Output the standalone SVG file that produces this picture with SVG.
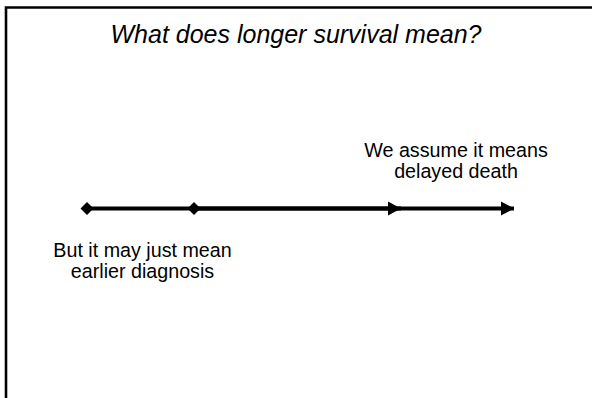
<svg xmlns="http://www.w3.org/2000/svg" width="592" height="398" viewBox="0 0 592 398">
<style>
.t{font-family:"Liberation Sans",Arial,sans-serif;fill:#000;text-anchor:middle}
.body{font-size:19.7px}
.title{font-size:25px;font-style:italic}
.conn{stroke:#000;stroke-width:4;fill:none}
</style>
<defs>
<marker id="diamond" markerUnits="userSpaceOnUse" markerWidth="16" markerHeight="16" refX="8" refY="8" orient="auto" overflow="visible">
<polygon points="1.5,8 8,1.5 14.5,8 8,14.5" fill="#000"/>
</marker>
<marker id="arrow" markerUnits="userSpaceOnUse" markerWidth="16" markerHeight="16" refX="13" refY="8" orient="auto" overflow="visible">
<polygon points="0,1 13,8 0,15" fill="#000"/>
</marker>
</defs>
<rect width="592" height="398" fill="#fff"/>
<g id="frame">
<path d="M6,398 V7.5 H592" stroke="#000" stroke-width="2.6" fill="none"/>
</g>
<g id="title">
<text class="t title" x="296" y="43">What does longer survival mean?</text>
</g>
<g id="connectors">
<path class="conn" d="M87,208.5 H401" marker-start="url(#diamond)" marker-end="url(#arrow)"/>
<path class="conn" d="M194,208.5 H514" marker-start="url(#diamond)" marker-end="url(#arrow)"/>
</g>
<g id="label-death">
<text class="t body" x="456" y="157">We assume it means</text>
<text class="t body" x="456" y="178">delayed death</text>
</g>
<g id="label-diagnosis">
<text class="t body" x="142.5" y="257">But it may just mean</text>
<text class="t body" x="142.5" y="278">earlier diagnosis</text>
</g>
</svg>
